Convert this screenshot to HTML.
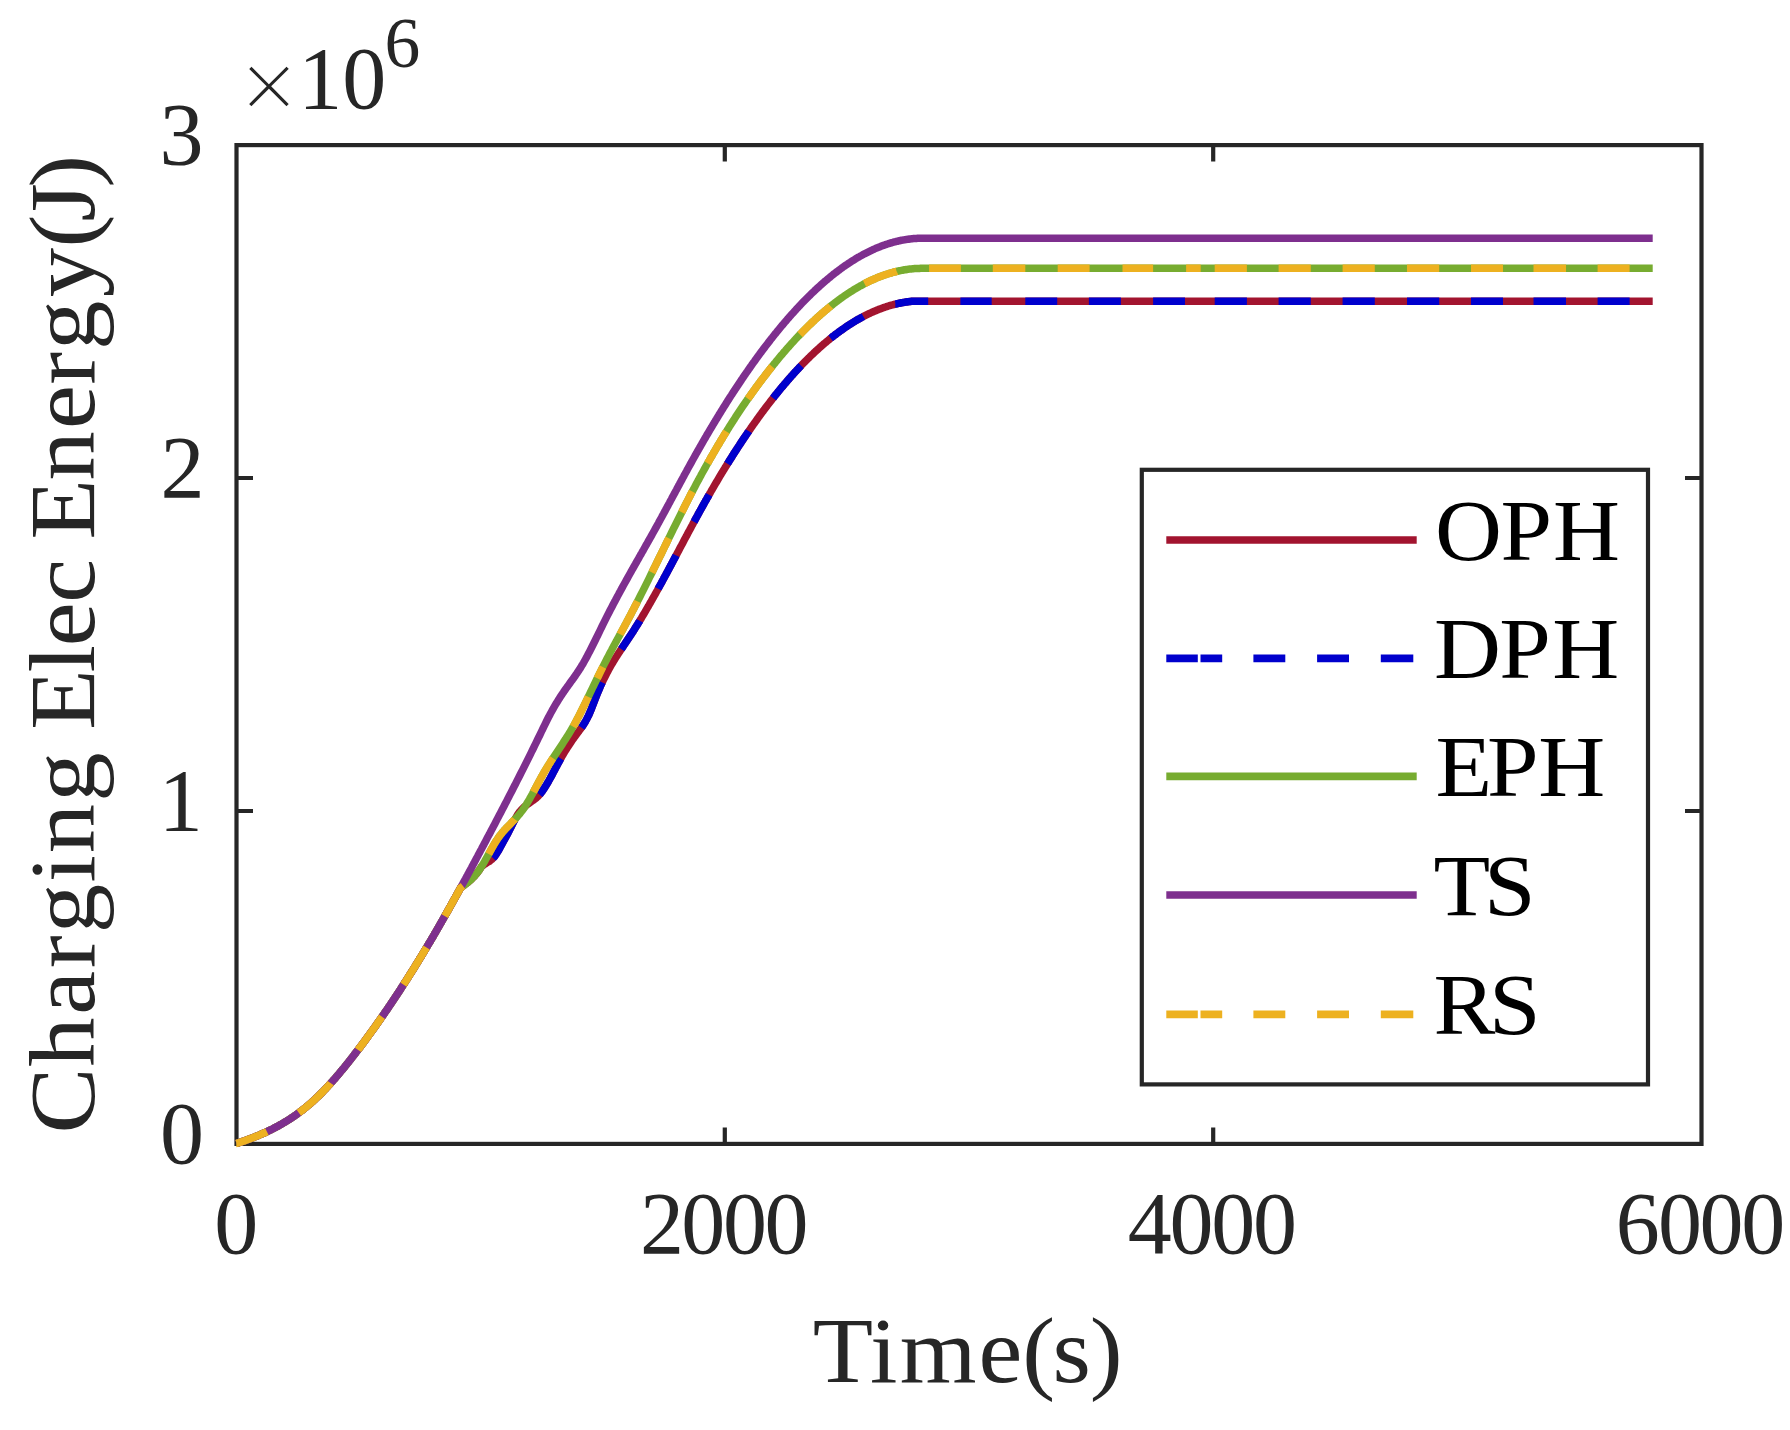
<!DOCTYPE html>
<html lang="en"><head><meta charset="utf-8"><title>Charging Elec Energy</title>
<style>html,body{margin:0;padding:0;background:#fff}body{width:1790px;height:1430px;overflow:hidden}svg{display:block}</style></head>
<body>
<svg width="1790" height="1430" viewBox="0 0 1790 1430">
<rect width="1790" height="1430" fill="#fff"/>
<g fill="none" stroke="#262626" stroke-width="4.2">
<rect x="236.5" y="145.1" width="1465.0" height="998.8"/>
<path d="M724.8 1143.9 v-16.5 M724.8 145.1 v16.5 M1213.2 1143.9 v-16.5 M1213.2 145.1 v16.5 M236.5 811.0 h16.5 M1701.5 811.0 h-16.5 M236.5 478.0 h16.5 M1701.5 478.0 h-16.5"/>
</g>
<g fill="none" stroke-width="7.5" stroke-linejoin="round">
<path d="M236.5 1143.5 L237.5 1143.2 L238.5 1142.8 L239.5 1142.5 L240.5 1142.2 L241.5 1141.8 L242.5 1141.5 L243.5 1141.1 L244.5 1140.8 L245.5 1140.4 L246.5 1140.0 L247.5 1139.7 L248.5 1139.3 L249.5 1138.9 L250.5 1138.6 L251.5 1138.2 L252.5 1137.8 L253.5 1137.4 L254.5 1137.0 L255.5 1136.6 L256.5 1136.2 L257.5 1135.8 L258.5 1135.4 L259.5 1135.0 L260.5 1134.5 L261.5 1134.1 L262.5 1133.7 L263.5 1133.2 L264.5 1132.8 L265.5 1132.3 L266.5 1131.9 L267.5 1131.4 L268.5 1130.9 L269.5 1130.4 L270.5 1129.9 L271.5 1129.5 L272.5 1129.0 L273.5 1128.4 L274.5 1127.9 L275.5 1127.4 L276.5 1126.9 L277.5 1126.3 L278.5 1125.8 L279.5 1125.2 L280.5 1124.7 L281.5 1124.1 L282.5 1123.5 L283.5 1122.9 L284.5 1122.3 L285.5 1121.7 L286.5 1121.1 L287.5 1120.5 L288.5 1119.9 L289.5 1119.2 L290.5 1118.6 L291.5 1117.9 L292.5 1117.2 L293.5 1116.6 L294.5 1115.9 L295.5 1115.2 L296.5 1114.5 L297.5 1113.7 L298.5 1113.0 L299.5 1112.3 L300.5 1111.5 L301.5 1110.8 L302.5 1110.0 L303.5 1109.2 L304.5 1108.4 L305.5 1107.6 L306.5 1106.8 L307.5 1105.9 L308.5 1105.1 L309.5 1104.2 L310.5 1103.4 L311.5 1102.5 L312.5 1101.6 L313.5 1100.7 L314.5 1099.8 L315.5 1098.8 L316.5 1097.9 L317.5 1096.9 L318.5 1096.0 L319.5 1095.0 L320.5 1094.0 L321.5 1093.0 L322.5 1092.0 L323.5 1090.9 L324.5 1089.9 L325.5 1088.9 L326.5 1087.8 L327.5 1086.7 L328.5 1085.6 L329.5 1084.6 L330.5 1083.5 L331.5 1082.3 L332.5 1081.2 L333.5 1080.1 L334.5 1079.0 L335.5 1077.8 L336.5 1076.6 L337.5 1075.5 L338.5 1074.3 L339.5 1073.1 L340.5 1071.9 L341.5 1070.7 L342.5 1069.5 L343.5 1068.3 L344.5 1067.1 L345.5 1065.8 L346.5 1064.6 L347.5 1063.3 L348.5 1062.1 L349.5 1060.8 L350.5 1059.6 L351.5 1058.3 L352.5 1057.0 L353.5 1055.7 L354.5 1054.4 L355.5 1053.1 L356.5 1051.8 L357.5 1050.5 L358.5 1049.2 L359.5 1047.9 L360.5 1046.6 L361.5 1045.2 L362.5 1043.9 L363.5 1042.6 L364.5 1041.2 L365.5 1039.9 L366.5 1038.5 L367.5 1037.1 L368.5 1035.8 L369.5 1034.4 L370.5 1033.0 L371.5 1031.6 L372.5 1030.2 L373.5 1028.9 L374.5 1027.5 L375.5 1026.1 L376.5 1024.6 L377.5 1023.2 L378.5 1021.8 L379.5 1020.4 L380.5 1019.0 L381.5 1017.5 L382.5 1016.1 L383.5 1014.6 L384.5 1013.2 L385.5 1011.7 L386.5 1010.3 L387.5 1008.8 L388.5 1007.3 L389.5 1005.9 L390.5 1004.4 L391.5 1002.9 L392.5 1001.4 L393.5 999.9 L394.5 998.4 L395.5 996.9 L396.5 995.4 L397.5 993.9 L398.5 992.3 L399.5 990.8 L400.5 989.3 L401.5 987.7 L402.5 986.2 L403.5 984.6 L404.5 983.1 L405.5 981.5 L406.5 980.0 L407.5 978.4 L408.5 976.8 L409.5 975.2 L410.5 973.6 L411.5 972.1 L412.5 970.5 L413.5 968.9 L414.5 967.3 L415.5 965.6 L416.5 964.0 L417.5 962.4 L418.5 960.8 L419.5 959.1 L420.5 957.5 L421.5 955.9 L422.5 954.2 L423.5 952.6 L424.5 950.9 L425.5 949.2 L426.5 947.6 L427.5 945.9 L428.5 944.2 L429.5 942.5 L430.5 940.9 L431.5 939.2 L432.5 937.5 L433.5 935.8 L434.5 934.0 L435.5 932.3 L436.5 930.6 L437.5 928.9 L438.5 927.2 L439.5 925.4 L440.5 923.7 L441.5 921.9 L442.5 920.2 L443.5 918.4 L444.5 916.7 L445.5 914.9 L446.5 913.1 L447.5 911.4 L448.5 909.6 L449.5 907.8 L450.5 906.0 L451.5 904.2 L452.5 902.4 L453.5 900.6 L454.5 898.8 L455.5 897.0 L456.5 895.2 L457.5 893.4 L458.5 891.6 L459.5 889.8 L460.5 887.9 L461.5 887.2 L462.5 886.4 L463.5 885.7 L464.5 884.9 L465.5 884.1 L466.5 883.4 L467.5 882.6 L468.5 881.7 L469.5 880.9 L470.5 880.0 L471.5 879.0 L472.5 878.1 L473.5 877.0 L474.5 876.0 L475.5 874.8 L476.5 873.7 L477.5 872.4 L478.5 871.1 L479.5 869.7 L480.5 868.2 L481.5 866.6 L482.5 865.8 L483.5 865.0 L484.5 864.3 L485.5 863.7 L486.5 863.0 L487.5 862.4 L488.5 861.8 L489.5 861.2 L490.5 860.4 L491.5 859.6 L492.5 858.7 L493.5 857.7 L494.5 856.5 L495.5 855.1 L496.5 853.6 L497.5 852.0 L498.5 850.4 L499.5 848.6 L500.5 846.8 L501.5 845.0 L502.5 843.1 L503.5 841.3 L504.5 839.5 L505.5 837.6 L506.5 835.8 L507.5 833.9 L508.5 832.0 L509.5 830.1 L510.5 828.1 L511.5 826.1 L512.5 824.1 L513.5 822.1 L514.5 820.2 L515.5 818.3 L516.5 816.6 L517.5 814.9 L518.5 813.4 L519.5 812.0 L520.5 810.8 L521.5 809.6 L522.5 808.6 L523.5 807.6 L524.5 806.7 L525.5 805.9 L526.5 805.1 L527.5 804.3 L528.5 803.6 L529.5 802.9 L530.5 802.2 L531.5 801.5 L532.5 800.8 L533.5 800.1 L534.5 799.3 L535.5 798.5 L536.5 797.7 L537.5 796.8 L538.5 795.8 L539.5 794.7 L540.5 793.5 L541.5 792.2 L542.5 790.9 L543.5 789.4 L544.5 787.9 L545.5 786.3 L546.5 784.7 L547.5 783.0 L548.5 781.3 L549.5 779.5 L550.5 777.7 L551.5 775.9 L552.5 774.0 L553.5 772.1 L554.5 770.2 L555.5 768.3 L556.5 766.5 L557.5 764.6 L558.5 762.7 L559.5 760.9 L560.5 759.0 L561.5 757.3 L562.5 755.5 L563.5 753.8 L564.5 752.1 L565.5 750.5 L566.5 748.9 L567.5 747.3 L568.5 745.8 L569.5 744.3 L570.5 742.8 L571.5 741.3 L572.5 739.9 L573.5 738.5 L574.5 737.1 L575.5 735.7 L576.5 734.4 L577.5 733.0 L578.5 731.7 L579.5 730.3 L580.5 729.0 L581.5 727.6 L582.5 726.1 L583.5 724.6 L584.5 723.0 L585.5 721.3 L586.5 719.5 L587.5 717.6 L588.5 715.6 L589.5 713.4 L590.5 711.1 L591.5 708.6 L592.5 706.0 L593.5 703.4 L594.5 700.7 L595.5 698.1 L596.5 695.6 L597.5 693.1 L598.5 690.7 L599.5 688.4 L600.5 686.1 L601.5 683.9 L602.5 681.8 L603.5 679.7 L604.5 677.7 L605.5 675.7 L606.5 673.7 L607.5 671.9 L608.5 670.0 L609.5 668.2 L610.5 666.4 L611.5 664.7 L612.5 663.0 L613.5 661.3 L614.5 659.7 L615.5 658.1 L616.5 656.5 L617.5 654.9 L618.5 653.4 L619.5 651.9 L620.5 650.3 L621.5 648.8 L622.5 647.3 L623.5 645.8 L624.5 644.4 L625.5 642.9 L626.5 641.4 L627.5 639.9 L628.5 638.4 L629.5 636.9 L630.5 635.4 L631.5 633.9 L632.5 632.3 L633.5 630.8 L634.5 629.2 L635.5 627.6 L636.5 626.0 L637.5 624.4 L638.5 622.8 L639.5 621.2 L640.5 619.5 L641.5 617.9 L642.5 616.2 L643.5 614.5 L644.5 612.8 L645.5 611.1 L646.5 609.4 L647.5 607.7 L648.5 606.0 L649.5 604.2 L650.5 602.5 L651.5 600.7 L652.5 598.9 L653.5 597.1 L654.5 595.4 L655.5 593.6 L656.5 591.8 L657.5 590.0 L658.5 588.1 L659.5 586.3 L660.5 584.5 L661.5 582.7 L662.5 580.8 L663.5 579.0 L664.5 577.1 L665.5 575.3 L666.5 573.4 L667.5 571.6 L668.5 569.7 L669.5 567.8 L670.5 565.9 L671.5 564.1 L672.5 562.2 L673.5 560.3 L674.5 558.4 L675.5 556.6 L676.5 554.7 L677.5 552.8 L678.5 550.9 L679.5 549.0 L680.5 547.1 L681.5 545.3 L682.5 543.4 L683.5 541.5 L684.5 539.6 L685.5 537.7 L686.5 535.9 L687.5 534.0 L688.5 532.1 L689.5 530.3 L690.5 528.4 L691.5 526.5 L692.5 524.7 L693.5 522.8 L694.5 521.0 L695.5 519.1 L696.5 517.3 L697.5 515.5 L698.5 513.6 L699.5 511.8 L700.5 510.0 L701.5 508.2 L702.5 506.4 L703.5 504.6 L704.5 502.8 L705.5 501.0 L706.5 499.3 L707.5 497.5 L708.5 495.8 L709.5 494.0 L710.5 492.3 L711.5 490.5 L712.5 488.8 L713.5 487.1 L714.5 485.4 L715.5 483.7 L716.5 482.0 L717.5 480.3 L718.5 478.6 L719.5 476.9 L720.5 475.2 L721.5 473.6 L722.5 471.9 L723.5 470.3 L724.5 468.7 L725.5 467.0 L726.5 465.4 L727.5 463.8 L728.5 462.2 L729.5 460.6 L730.5 459.0 L731.5 457.4 L732.5 455.8 L733.5 454.2 L734.5 452.7 L735.5 451.1 L736.5 449.6 L737.5 448.0 L738.5 446.5 L739.5 445.0 L740.5 443.4 L741.5 441.9 L742.5 440.4 L743.5 438.9 L744.5 437.4 L745.5 436.0 L746.5 434.5 L747.5 433.0 L748.5 431.6 L749.5 430.1 L750.5 428.7 L751.5 427.2 L752.5 425.8 L753.5 424.4 L754.5 423.0 L755.5 421.6 L756.5 420.2 L757.5 418.8 L758.5 417.4 L759.5 416.0 L760.5 414.6 L761.5 413.3 L762.5 411.9 L763.5 410.6 L764.5 409.2 L765.5 407.9 L766.5 406.6 L767.5 405.3 L768.5 404.0 L769.5 402.7 L770.5 401.4 L771.5 400.1 L772.5 398.8 L773.5 397.6 L774.5 396.3 L775.5 395.0 L776.5 393.8 L777.5 392.6 L778.5 391.3 L779.5 390.1 L780.5 388.9 L781.5 387.7 L782.5 386.5 L783.5 385.3 L784.5 384.1 L785.5 383.0 L786.5 381.8 L787.5 380.6 L788.5 379.5 L789.5 378.3 L790.5 377.2 L791.5 376.1 L792.5 375.0 L793.5 373.8 L794.5 372.7 L795.5 371.6 L796.5 370.6 L797.5 369.5 L798.5 368.4 L799.5 367.3 L800.5 366.3 L801.5 365.2 L802.5 364.2 L803.5 363.2 L804.5 362.2 L805.5 361.1 L806.5 360.1 L807.5 359.1 L808.5 358.1 L809.5 357.2 L810.5 356.2 L811.5 355.2 L812.5 354.3 L813.5 353.3 L814.5 352.4 L815.5 351.4 L816.5 350.5 L817.5 349.6 L818.5 348.7 L819.5 347.8 L820.5 346.9 L821.5 346.0 L822.5 345.1 L823.5 344.3 L824.5 343.4 L825.5 342.6 L826.5 341.7 L827.5 340.9 L828.5 340.1 L829.5 339.2 L830.5 338.4 L831.5 337.6 L832.5 336.8 L833.5 336.0 L834.5 335.3 L835.5 334.5 L836.5 333.7 L837.5 333.0 L838.5 332.3 L839.5 331.5 L840.5 330.8 L841.5 330.1 L842.5 329.4 L843.5 328.7 L844.5 328.0 L845.5 327.3 L846.5 326.6 L847.5 325.9 L848.5 325.3 L849.5 324.6 L850.5 324.0 L851.5 323.4 L852.5 322.7 L853.5 322.1 L854.5 321.5 L855.5 320.9 L856.5 320.3 L857.5 319.7 L858.5 319.2 L859.5 318.6 L860.5 318.1 L861.5 317.5 L862.5 317.0 L863.5 316.4 L864.5 315.9 L865.5 315.4 L866.5 314.9 L867.5 314.4 L868.5 313.9 L869.5 313.4 L870.5 313.0 L871.5 312.5 L872.5 312.1 L873.5 311.6 L874.5 311.2 L875.5 310.8 L876.5 310.3 L877.5 309.9 L878.5 309.5 L879.5 309.1 L880.5 308.8 L881.5 308.4 L882.5 308.0 L883.5 307.7 L884.5 307.3 L885.5 307.0 L886.5 306.7 L887.5 306.3 L888.5 306.0 L889.5 305.7 L890.5 305.4 L891.5 305.1 L892.5 304.9 L893.5 304.6 L894.5 304.3 L895.5 304.1 L896.5 303.9 L897.5 303.6 L898.5 303.4 L899.5 303.2 L900.5 303.0 L901.5 302.8 L902.5 302.6 L903.5 302.4 L904.5 302.3 L905.5 302.1 L906.5 302.0 L907.5 301.8 L908.5 301.7 L909.5 301.6 L910.5 301.4 L911.5 301.3 L912.5 301.3 L913.5 301.3 L914.5 301.3 L915.5 301.3 L916.5 301.3 L917.5 301.3 L918.5 301.3 L919.5 301.3 L920.5 301.3 L921.5 301.3 L922.5 301.3 L923.5 301.3 L924.5 301.3 L1652.7 301.3" stroke="#A2142F"/>
<path d="M493.1 858.1 L493.5 857.7 L494.5 856.5 L495.5 855.1 L496.5 853.6 L497.5 852.0 L498.5 850.4 L499.5 848.6 L500.5 846.8 L501.5 845.0 L502.5 843.1 L503.5 841.3 L504.5 839.5 L505.5 837.6 L506.5 835.8 L507.5 833.9 L508.5 832.0 L509.5 830.1 L510.5 828.1 L511.5 826.1 L512.5 824.1 L513.5 822.1 L514.5 820.2 L514.9 819.4 M539.5 794.7 L540.5 793.5 L541.5 792.2 L542.5 790.9 L543.5 789.4 L544.5 787.9 L545.5 786.3 L546.5 784.7 L547.5 783.0 L548.5 781.3 L549.5 779.5 L550.5 777.7 L551.5 775.9 L552.5 774.0 L553.5 772.1 L554.5 770.2 L555.5 768.3 L556.5 766.5 L557.5 764.6 L558.5 762.7 L559.5 760.9 L560.5 759.0 L560.8 758.5 M581.5 727.6 L582.5 726.1 L583.5 724.6 L584.5 723.0 L585.5 721.3 L586.5 719.5 L587.5 717.6 L588.5 715.6 L589.5 713.4 L590.5 711.1 L591.5 708.6 L592.5 706.0 L593.5 703.4 L594.5 700.7 L595.5 698.1 L596.5 695.6 L597.5 693.1 L598.5 690.7 L599.5 688.4 L600.5 686.1 L601.5 683.9 L602.2 682.4 M621.3 649.1 L621.5 648.8 L622.5 647.3 L623.5 645.8 L624.5 644.4 L625.5 642.9 L626.5 641.4 L627.5 639.9 L628.5 638.4 L629.5 636.9 L630.5 635.4 L631.5 633.9 L632.5 632.3 L633.5 630.8 L634.5 629.2 L635.5 627.6 L636.5 626.0 L637.5 624.4 L638.5 622.8 L639.5 621.2 L639.7 620.8 M658.2 588.7 L658.5 588.1 L659.5 586.3 L660.5 584.5 L661.5 582.7 L662.5 580.8 L663.5 579.0 L664.5 577.1 L665.5 575.3 L666.5 573.4 L667.5 571.6 L668.5 569.7 L669.5 567.8 L670.5 565.9 L671.5 564.1 L672.5 562.2 L673.5 560.3 L674.5 558.4 L675.5 556.6 L676.1 555.4 M694.0 521.9 L694.5 521.0 L695.5 519.1 L696.5 517.3 L697.5 515.5 L698.5 513.6 L699.5 511.8 L700.5 510.0 L701.5 508.2 L702.5 506.4 L703.5 504.6 L704.5 502.8 L705.5 501.0 L706.5 499.3 L707.5 497.5 L708.5 495.8 L709.1 494.7 M727.5 463.8 L728.5 462.2 L729.5 460.6 L730.5 459.0 L731.5 457.4 L732.5 455.8 L733.5 454.2 L734.5 452.7 L735.5 451.1 L736.5 449.6 L737.5 448.0 L738.5 446.5 L739.5 445.0 L740.5 443.4 L741.5 441.9 L742.5 440.4 L743.5 438.9 L744.5 437.4 L745.5 436.0 L746.5 434.5 L747.5 433.0 L748.5 431.6 L748.8 431.1 M773.1 398.1 L773.5 397.6 L774.5 396.3 L775.5 395.0 L776.5 393.8 L777.5 392.6 L778.5 391.3 L779.5 390.1 L780.5 388.9 L781.5 387.7 L782.5 386.5 L783.5 385.3 L784.5 384.1 L785.5 383.0 L786.5 381.8 L787.5 380.6 L788.5 379.5 L789.5 378.3 L790.5 377.2 L791.5 376.1 L792.5 375.0 L793.5 373.8 L794.5 372.7 L795.5 371.6 L796.5 370.6 L797.5 369.5 L798.5 368.4 L799.5 367.3 L800.5 366.3 L801.1 365.7 M830.6 338.3 L831.5 337.6 L832.5 336.8 L833.5 336.0 L834.5 335.3 L835.5 334.5 L836.5 333.7 L837.5 333.0 L838.5 332.3 L839.5 331.5 L840.5 330.8 L841.5 330.1 L842.5 329.4 L843.5 328.7 L844.5 328.0 L845.5 327.3 L846.5 326.6 L847.5 325.9 L848.5 325.3 L849.5 324.6 L850.5 324.0 L851.5 323.4 L852.5 322.7 L853.5 322.1 L854.5 321.5 L855.5 320.9 L856.5 320.3 L857.5 319.7 L858.5 319.2 L859.5 318.6 L860.5 318.1 L861.5 317.5 L862.5 317.0 L863.4 316.5 M895.3 304.1 L895.5 304.1 L896.5 303.9 L897.5 303.6 L898.5 303.4 L899.5 303.2 L900.5 303.0 L901.5 302.8 L902.5 302.6 L903.5 302.4 L904.5 302.3 L905.5 302.1 L906.5 302.0 L907.5 301.8 L908.5 301.7 L909.5 301.6 L910.5 301.4 L911.5 301.3 L912.5 301.3 L913.5 301.3 L914.5 301.3 L915.5 301.3 L916.5 301.3 L917.5 301.3 L918.5 301.3 L919.5 301.3 L920.5 301.3 L921.5 301.3 L922.5 301.3 L923.5 301.3 L924.5 301.3 L928.2 301.3 M960.4 301.3 L991.7 301.3 M1025.3 301.3 L1057.2 301.3 M1088.9 301.3 L1120.9 301.3 M1153.1 301.3 L1185.0 301.3 M1214.7 301.3 L1246.9 301.3 M1278.6 301.3 L1310.8 301.3 M1342.6 301.3 L1374.8 301.3 M1407.0 301.3 L1439.2 301.3 M1471.0 301.3 L1503.0 301.3 M1533.5 301.3 L1566.0 301.3 M1597.6 301.3 L1629.6 301.3" stroke="#0000CD"/>
<path d="M236.5 1143.5 L237.5 1143.2 L238.5 1142.8 L239.5 1142.5 L240.5 1142.2 L241.5 1141.8 L242.5 1141.5 L243.5 1141.1 L244.5 1140.8 L245.5 1140.4 L246.5 1140.0 L247.5 1139.7 L248.5 1139.3 L249.5 1138.9 L250.5 1138.6 L251.5 1138.2 L252.5 1137.8 L253.5 1137.4 L254.5 1137.0 L255.5 1136.6 L256.5 1136.2 L257.5 1135.8 L258.5 1135.4 L259.5 1135.0 L260.5 1134.5 L261.5 1134.1 L262.5 1133.7 L263.5 1133.2 L264.5 1132.8 L265.5 1132.3 L266.5 1131.9 L267.5 1131.4 L268.5 1130.9 L269.5 1130.4 L270.5 1129.9 L271.5 1129.5 L272.5 1129.0 L273.5 1128.4 L274.5 1127.9 L275.5 1127.4 L276.5 1126.9 L277.5 1126.3 L278.5 1125.8 L279.5 1125.2 L280.5 1124.7 L281.5 1124.1 L282.5 1123.5 L283.5 1122.9 L284.5 1122.3 L285.5 1121.7 L286.5 1121.1 L287.5 1120.5 L288.5 1119.9 L289.5 1119.2 L290.5 1118.6 L291.5 1117.9 L292.5 1117.2 L293.5 1116.6 L294.5 1115.9 L295.5 1115.2 L296.5 1114.5 L297.5 1113.7 L298.5 1113.0 L299.5 1112.3 L300.5 1111.5 L301.5 1110.8 L302.5 1110.0 L303.5 1109.2 L304.5 1108.4 L305.5 1107.6 L306.5 1106.8 L307.5 1105.9 L308.5 1105.1 L309.5 1104.2 L310.5 1103.4 L311.5 1102.5 L312.5 1101.6 L313.5 1100.7 L314.5 1099.8 L315.5 1098.8 L316.5 1097.9 L317.5 1096.9 L318.5 1096.0 L319.5 1095.0 L320.5 1094.0 L321.5 1093.0 L322.5 1092.0 L323.5 1090.9 L324.5 1089.9 L325.5 1088.9 L326.5 1087.8 L327.5 1086.7 L328.5 1085.6 L329.5 1084.6 L330.5 1083.5 L331.5 1082.3 L332.5 1081.2 L333.5 1080.1 L334.5 1079.0 L335.5 1077.8 L336.5 1076.6 L337.5 1075.5 L338.5 1074.3 L339.5 1073.1 L340.5 1071.9 L341.5 1070.7 L342.5 1069.5 L343.5 1068.3 L344.5 1067.1 L345.5 1065.8 L346.5 1064.6 L347.5 1063.3 L348.5 1062.1 L349.5 1060.8 L350.5 1059.6 L351.5 1058.3 L352.5 1057.0 L353.5 1055.7 L354.5 1054.4 L355.5 1053.1 L356.5 1051.8 L357.5 1050.5 L358.5 1049.2 L359.5 1047.9 L360.5 1046.6 L361.5 1045.2 L362.5 1043.9 L363.5 1042.6 L364.5 1041.2 L365.5 1039.9 L366.5 1038.5 L367.5 1037.1 L368.5 1035.8 L369.5 1034.4 L370.5 1033.0 L371.5 1031.6 L372.5 1030.2 L373.5 1028.9 L374.5 1027.5 L375.5 1026.1 L376.5 1024.6 L377.5 1023.2 L378.5 1021.8 L379.5 1020.4 L380.5 1019.0 L381.5 1017.5 L382.5 1016.1 L383.5 1014.6 L384.5 1013.2 L385.5 1011.7 L386.5 1010.3 L387.5 1008.8 L388.5 1007.3 L389.5 1005.9 L390.5 1004.4 L391.5 1002.9 L392.5 1001.4 L393.5 999.9 L394.5 998.4 L395.5 996.9 L396.5 995.4 L397.5 993.9 L398.5 992.3 L399.5 990.8 L400.5 989.3 L401.5 987.7 L402.5 986.2 L403.5 984.6 L404.5 983.1 L405.5 981.5 L406.5 980.0 L407.5 978.4 L408.5 976.8 L409.5 975.2 L410.5 973.6 L411.5 972.1 L412.5 970.5 L413.5 968.9 L414.5 967.3 L415.5 965.6 L416.5 964.0 L417.5 962.4 L418.5 960.8 L419.5 959.1 L420.5 957.5 L421.5 955.9 L422.5 954.2 L423.5 952.6 L424.5 950.9 L425.5 949.2 L426.5 947.6 L427.5 945.9 L428.5 944.2 L429.5 942.5 L430.5 940.9 L431.5 939.2 L432.5 937.5 L433.5 935.8 L434.5 934.0 L435.5 932.3 L436.5 930.6 L437.5 928.9 L438.5 927.2 L439.5 925.4 L440.5 923.7 L441.5 921.9 L442.5 920.2 L443.5 918.4 L444.5 916.7 L445.5 914.9 L446.5 913.1 L447.5 911.4 L448.5 909.6 L449.5 907.8 L450.5 906.0 L451.5 904.2 L452.5 902.4 L453.5 900.6 L454.5 898.8 L455.5 897.0 L456.5 895.2 L457.5 893.4 L458.5 891.6 L459.5 889.8 L460.5 887.9 L461.5 887.2 L462.5 886.4 L463.5 885.7 L464.5 884.9 L465.5 884.1 L466.5 883.4 L467.5 882.6 L468.5 881.7 L469.5 880.9 L470.5 880.0 L471.5 879.0 L472.5 878.1 L473.5 877.0 L474.5 876.0 L475.5 874.8 L476.5 873.7 L477.5 872.4 L478.5 871.1 L479.5 869.7 L480.5 868.2 L481.5 866.6 L482.5 865.0 L483.5 863.3 L484.5 861.6 L485.5 859.8 L486.5 858.0 L487.5 856.2 L488.5 854.4 L489.5 852.6 L490.5 850.7 L491.5 848.9 L492.5 847.2 L493.5 845.4 L494.5 843.7 L495.5 842.1 L496.5 840.5 L497.5 839.0 L498.5 837.5 L499.5 836.1 L500.5 834.8 L501.5 833.6 L502.5 832.3 L503.5 831.2 L504.5 830.0 L505.5 828.9 L506.5 827.9 L507.5 826.8 L508.5 825.8 L509.5 824.8 L510.5 823.8 L511.5 822.7 L512.5 821.7 L513.5 820.7 L514.5 819.7 L515.5 818.6 L516.5 817.5 L517.5 816.4 L518.5 815.2 L519.5 814.1 L520.5 812.8 L521.5 811.5 L522.5 810.2 L523.5 808.8 L524.5 807.3 L525.5 805.8 L526.5 804.2 L527.5 802.5 L528.5 800.8 L529.5 799.1 L530.5 797.3 L531.5 795.5 L532.5 793.7 L533.5 791.8 L534.5 789.9 L535.5 788.1 L536.5 786.2 L537.5 784.3 L538.5 782.4 L539.5 780.6 L540.5 778.7 L541.5 776.9 L542.5 775.1 L543.5 773.4 L544.5 771.6 L545.5 769.9 L546.5 768.3 L547.5 766.7 L548.5 765.0 L549.5 763.5 L550.5 761.9 L551.5 760.3 L552.5 758.8 L553.5 757.3 L554.5 755.8 L555.5 754.3 L556.5 752.8 L557.5 751.3 L558.5 749.8 L559.5 748.3 L560.5 746.8 L561.5 745.3 L562.5 743.8 L563.5 742.2 L564.5 740.7 L565.5 739.2 L566.5 737.6 L567.5 736.0 L568.5 734.4 L569.5 732.8 L570.5 731.1 L571.5 729.4 L572.5 727.7 L573.5 726.0 L574.5 724.2 L575.5 722.4 L576.5 720.5 L577.5 718.6 L578.5 716.7 L579.5 714.8 L580.5 712.8 L581.5 710.8 L582.5 708.8 L583.5 706.7 L584.5 704.7 L585.5 702.6 L586.5 700.5 L587.5 698.5 L588.5 696.4 L589.5 694.3 L590.5 692.2 L591.5 690.1 L592.5 688.0 L593.5 686.0 L594.5 683.9 L595.5 681.8 L596.5 679.8 L597.5 677.7 L598.5 675.7 L599.5 673.6 L600.5 671.6 L601.5 669.6 L602.5 667.6 L603.5 665.6 L604.5 663.6 L605.5 661.7 L606.5 659.7 L607.5 657.8 L608.5 655.9 L609.5 653.9 L610.5 652.0 L611.5 650.2 L612.5 648.3 L613.5 646.4 L614.5 644.6 L615.5 642.7 L616.5 640.9 L617.5 639.0 L618.5 637.2 L619.5 635.4 L620.5 633.5 L621.5 631.7 L622.5 629.9 L623.5 628.0 L624.5 626.2 L625.5 624.3 L626.5 622.5 L627.5 620.6 L628.5 618.7 L629.5 616.8 L630.5 614.9 L631.5 613.0 L632.5 611.1 L633.5 609.2 L634.5 607.3 L635.5 605.3 L636.5 603.4 L637.5 601.4 L638.5 599.5 L639.5 597.5 L640.5 595.5 L641.5 593.6 L642.5 591.6 L643.5 589.6 L644.5 587.6 L645.5 585.6 L646.5 583.6 L647.5 581.6 L648.5 579.6 L649.5 577.5 L650.5 575.5 L651.5 573.5 L652.5 571.5 L653.5 569.4 L654.5 567.4 L655.5 565.4 L656.5 563.3 L657.5 561.3 L658.5 559.3 L659.5 557.2 L660.5 555.2 L661.5 553.2 L662.5 551.1 L663.5 549.1 L664.5 547.0 L665.5 545.0 L666.5 543.0 L667.5 540.9 L668.5 538.9 L669.5 536.9 L670.5 534.8 L671.5 532.8 L672.5 530.8 L673.5 528.7 L674.5 526.7 L675.5 524.7 L676.5 522.7 L677.5 520.7 L678.5 518.7 L679.5 516.7 L680.5 514.7 L681.5 512.7 L682.5 510.7 L683.5 508.7 L684.5 506.7 L685.5 504.8 L686.5 502.8 L687.5 500.9 L688.5 498.9 L689.5 497.0 L690.5 495.0 L691.5 493.1 L692.5 491.2 L693.5 489.3 L694.5 487.4 L695.5 485.5 L696.5 483.6 L697.5 481.7 L698.5 479.9 L699.5 478.0 L700.5 476.2 L701.5 474.3 L702.5 472.5 L703.5 470.7 L704.5 468.9 L705.5 467.1 L706.5 465.3 L707.5 463.5 L708.5 461.8 L709.5 460.0 L710.5 458.2 L711.5 456.5 L712.5 454.8 L713.5 453.0 L714.5 451.3 L715.5 449.6 L716.5 447.9 L717.5 446.2 L718.5 444.5 L719.5 442.9 L720.5 441.2 L721.5 439.5 L722.5 437.9 L723.5 436.2 L724.5 434.6 L725.5 433.0 L726.5 431.4 L727.5 429.8 L728.5 428.2 L729.5 426.6 L730.5 425.0 L731.5 423.4 L732.5 421.9 L733.5 420.3 L734.5 418.8 L735.5 417.2 L736.5 415.7 L737.5 414.2 L738.5 412.7 L739.5 411.2 L740.5 409.7 L741.5 408.2 L742.5 406.7 L743.5 405.2 L744.5 403.8 L745.5 402.3 L746.5 400.9 L747.5 399.4 L748.5 398.0 L749.5 396.6 L750.5 395.2 L751.5 393.8 L752.5 392.4 L753.5 391.0 L754.5 389.6 L755.5 388.2 L756.5 386.8 L757.5 385.5 L758.5 384.1 L759.5 382.8 L760.5 381.4 L761.5 380.1 L762.5 378.8 L763.5 377.5 L764.5 376.2 L765.5 374.9 L766.5 373.6 L767.5 372.3 L768.5 371.0 L769.5 369.7 L770.5 368.5 L771.5 367.2 L772.5 366.0 L773.5 364.7 L774.5 363.5 L775.5 362.3 L776.5 361.0 L777.5 359.8 L778.5 358.6 L779.5 357.4 L780.5 356.2 L781.5 355.0 L782.5 353.9 L783.5 352.7 L784.5 351.5 L785.5 350.4 L786.5 349.2 L787.5 348.1 L788.5 347.0 L789.5 345.8 L790.5 344.7 L791.5 343.6 L792.5 342.5 L793.5 341.4 L794.5 340.3 L795.5 339.2 L796.5 338.2 L797.5 337.1 L798.5 336.0 L799.5 335.0 L800.5 334.0 L801.5 332.9 L802.5 331.9 L803.5 330.9 L804.5 329.9 L805.5 328.9 L806.5 327.9 L807.5 326.9 L808.5 325.9 L809.5 324.9 L810.5 324.0 L811.5 323.0 L812.5 322.0 L813.5 321.1 L814.5 320.2 L815.5 319.2 L816.5 318.3 L817.5 317.4 L818.5 316.5 L819.5 315.6 L820.5 314.7 L821.5 313.8 L822.5 313.0 L823.5 312.1 L824.5 311.3 L825.5 310.4 L826.5 309.6 L827.5 308.7 L828.5 307.9 L829.5 307.1 L830.5 306.3 L831.5 305.5 L832.5 304.7 L833.5 303.9 L834.5 303.1 L835.5 302.4 L836.5 301.6 L837.5 300.9 L838.5 300.1 L839.5 299.4 L840.5 298.6 L841.5 297.9 L842.5 297.2 L843.5 296.5 L844.5 295.8 L845.5 295.1 L846.5 294.5 L847.5 293.8 L848.5 293.1 L849.5 292.5 L850.5 291.8 L851.5 291.2 L852.5 290.6 L853.5 289.9 L854.5 289.3 L855.5 288.7 L856.5 288.1 L857.5 287.6 L858.5 287.0 L859.5 286.4 L860.5 285.8 L861.5 285.3 L862.5 284.8 L863.5 284.2 L864.5 283.7 L865.5 283.2 L866.5 282.7 L867.5 282.2 L868.5 281.7 L869.5 281.2 L870.5 280.7 L871.5 280.2 L872.5 279.8 L873.5 279.3 L874.5 278.9 L875.5 278.5 L876.5 278.0 L877.5 277.6 L878.5 277.2 L879.5 276.8 L880.5 276.4 L881.5 276.1 L882.5 275.7 L883.5 275.3 L884.5 275.0 L885.5 274.6 L886.5 274.3 L887.5 274.0 L888.5 273.7 L889.5 273.4 L890.5 273.1 L891.5 272.8 L892.5 272.5 L893.5 272.2 L894.5 272.0 L895.5 271.7 L896.5 271.5 L897.5 271.2 L898.5 271.0 L899.5 270.8 L900.5 270.6 L901.5 270.4 L902.5 270.2 L903.5 270.0 L904.5 269.8 L905.5 269.7 L906.5 269.5 L907.5 269.4 L908.5 269.2 L909.5 269.1 L910.5 269.0 L911.5 268.9 L912.5 268.8 L913.5 268.7 L914.5 268.6 L915.5 268.5 L916.5 268.5 L917.5 268.4 L918.5 268.4 L919.5 268.4 L920.5 268.3 L921.5 268.3 L922.5 268.3 L923.5 268.3 L924.5 268.3 L1652.7 268.3" stroke="#77AC30"/>
<path d="M236.5 1143.5 L237.5 1143.2 L238.5 1142.8 L239.5 1142.5 L240.5 1142.2 L241.5 1141.8 L242.5 1141.5 L243.5 1141.1 L244.5 1140.8 L245.5 1140.4 L246.5 1140.0 L247.5 1139.7 L248.5 1139.3 L249.5 1138.9 L250.5 1138.6 L251.5 1138.2 L252.5 1137.8 L253.5 1137.4 L254.5 1137.0 L255.5 1136.6 L256.5 1136.2 L257.5 1135.8 L258.5 1135.4 L259.5 1135.0 L260.5 1134.5 L261.5 1134.1 L262.5 1133.7 L263.5 1133.2 L264.5 1132.8 L265.5 1132.3 L266.5 1131.9 L267.5 1131.4 L268.5 1130.9 L269.5 1130.4 L270.5 1129.9 L271.5 1129.5 L272.5 1129.0 L273.5 1128.4 L274.5 1127.9 L275.5 1127.4 L276.5 1126.9 L277.5 1126.3 L278.5 1125.8 L279.5 1125.2 L280.5 1124.7 L281.5 1124.1 L282.5 1123.5 L283.5 1122.9 L284.5 1122.3 L285.5 1121.7 L286.5 1121.1 L287.5 1120.5 L288.5 1119.9 L289.5 1119.2 L290.5 1118.6 L291.5 1117.9 L292.5 1117.2 L293.5 1116.6 L294.5 1115.9 L295.5 1115.2 L296.5 1114.5 L297.5 1113.7 L298.5 1113.0 L299.5 1112.3 L300.5 1111.5 L301.5 1110.8 L302.5 1110.0 L303.5 1109.2 L304.5 1108.4 L305.5 1107.6 L306.5 1106.8 L307.5 1105.9 L308.5 1105.1 L309.5 1104.2 L310.5 1103.4 L311.5 1102.5 L312.5 1101.6 L313.5 1100.7 L314.5 1099.8 L315.5 1098.8 L316.5 1097.9 L317.5 1096.9 L318.5 1096.0 L319.5 1095.0 L320.5 1094.0 L321.5 1093.0 L322.5 1092.0 L323.5 1090.9 L324.5 1089.9 L325.5 1088.9 L326.5 1087.8 L327.5 1086.7 L328.5 1085.6 L329.5 1084.6 L330.5 1083.5 L331.5 1082.3 L332.5 1081.2 L333.5 1080.1 L334.5 1079.0 L335.5 1077.8 L336.5 1076.6 L337.5 1075.5 L338.5 1074.3 L339.5 1073.1 L340.5 1071.9 L341.5 1070.7 L342.5 1069.5 L343.5 1068.3 L344.5 1067.1 L345.5 1065.8 L346.5 1064.6 L347.5 1063.3 L348.5 1062.1 L349.5 1060.8 L350.5 1059.6 L351.5 1058.3 L352.5 1057.0 L353.5 1055.7 L354.5 1054.4 L355.5 1053.1 L356.5 1051.8 L357.5 1050.5 L358.5 1049.2 L359.5 1047.9 L360.5 1046.6 L361.5 1045.2 L362.5 1043.9 L363.5 1042.6 L364.5 1041.2 L365.5 1039.9 L366.5 1038.5 L367.5 1037.1 L368.5 1035.8 L369.5 1034.4 L370.5 1033.0 L371.5 1031.6 L372.5 1030.2 L373.5 1028.9 L374.5 1027.5 L375.5 1026.1 L376.5 1024.6 L377.5 1023.2 L378.5 1021.8 L379.5 1020.4 L380.5 1019.0 L381.5 1017.5 L382.5 1016.1 L383.5 1014.6 L384.5 1013.2 L385.5 1011.7 L386.5 1010.3 L387.5 1008.8 L388.5 1007.3 L389.5 1005.9 L390.5 1004.4 L391.5 1002.9 L392.5 1001.4 L393.5 999.9 L394.5 998.4 L395.5 996.9 L396.5 995.4 L397.5 993.9 L398.5 992.3 L399.5 990.8 L400.5 989.3 L401.5 987.7 L402.5 986.2 L403.5 984.6 L404.5 983.1 L405.5 981.5 L406.5 980.0 L407.5 978.4 L408.5 976.8 L409.5 975.2 L410.5 973.6 L411.5 972.1 L412.5 970.5 L413.5 968.9 L414.5 967.3 L415.5 965.6 L416.5 964.0 L417.5 962.4 L418.5 960.8 L419.5 959.1 L420.5 957.5 L421.5 955.9 L422.5 954.2 L423.5 952.6 L424.5 950.9 L425.5 949.2 L426.5 947.6 L427.5 945.9 L428.5 944.2 L429.5 942.5 L430.5 940.9 L431.5 939.2 L432.5 937.5 L433.5 935.8 L434.5 934.0 L435.5 932.3 L436.5 930.6 L437.5 928.9 L438.5 927.2 L439.5 925.4 L440.5 923.7 L441.5 921.9 L442.5 920.2 L443.5 918.4 L444.5 916.7 L445.5 914.9 L446.5 913.1 L447.5 911.4 L448.5 909.6 L449.5 907.8 L450.5 906.0 L451.5 904.2 L452.5 902.4 L453.5 900.6 L454.5 898.8 L455.5 897.0 L456.5 895.2 L457.5 893.4 L458.5 891.6 L459.5 889.8 L460.5 887.9 L461.5 886.1 L462.5 884.3 L463.5 882.4 L464.5 880.6 L465.5 878.8 L466.5 876.9 L467.5 875.1 L468.5 873.2 L469.5 871.4 L470.5 869.5 L471.5 867.7 L472.5 865.8 L473.5 863.9 L474.5 862.1 L475.5 860.2 L476.5 858.3 L477.5 856.5 L478.5 854.6 L479.5 852.7 L480.5 850.8 L481.5 849.0 L482.5 847.1 L483.5 845.2 L484.5 843.3 L485.5 841.4 L486.5 839.5 L487.5 837.6 L488.5 835.7 L489.5 833.9 L490.5 832.0 L491.5 830.1 L492.5 828.2 L493.5 826.3 L494.5 824.4 L495.5 822.5 L496.5 820.6 L497.5 818.6 L498.5 816.7 L499.5 814.8 L500.5 812.9 L501.5 811.0 L502.5 809.1 L503.5 807.2 L504.5 805.2 L505.5 803.3 L506.5 801.4 L507.5 799.4 L508.5 797.5 L509.5 795.6 L510.5 793.6 L511.5 791.7 L512.5 789.7 L513.5 787.8 L514.5 785.8 L515.5 783.9 L516.5 781.9 L517.5 779.9 L518.5 778.0 L519.5 776.0 L520.5 774.0 L521.5 772.1 L522.5 770.1 L523.5 768.1 L524.5 766.1 L525.5 764.1 L526.5 762.1 L527.5 760.1 L528.5 758.1 L529.5 756.1 L530.5 754.1 L531.5 752.0 L532.5 750.0 L533.5 748.0 L534.5 745.9 L535.5 743.9 L536.5 741.8 L537.5 739.8 L538.5 737.7 L539.5 735.7 L540.5 733.6 L541.5 731.5 L542.5 729.5 L543.5 727.4 L544.5 725.4 L545.5 723.3 L546.5 721.3 L547.5 719.3 L548.5 717.3 L549.5 715.4 L550.5 713.5 L551.5 711.7 L552.5 709.9 L553.5 708.1 L554.5 706.4 L555.5 704.7 L556.5 703.0 L557.5 701.4 L558.5 699.8 L559.5 698.2 L560.5 696.6 L561.5 695.1 L562.5 693.6 L563.5 692.2 L564.5 690.7 L565.5 689.3 L566.5 687.9 L567.5 686.5 L568.5 685.1 L569.5 683.7 L570.5 682.3 L571.5 680.9 L572.5 679.6 L573.5 678.2 L574.5 676.8 L575.5 675.3 L576.5 673.9 L577.5 672.4 L578.5 670.9 L579.5 669.3 L580.5 667.8 L581.5 666.1 L582.5 664.5 L583.5 662.8 L584.5 661.0 L585.5 659.2 L586.5 657.4 L587.5 655.5 L588.5 653.6 L589.5 651.7 L590.5 649.8 L591.5 647.8 L592.5 645.8 L593.5 643.8 L594.5 641.8 L595.5 639.8 L596.5 637.7 L597.5 635.7 L598.5 633.6 L599.5 631.6 L600.5 629.5 L601.5 627.5 L602.5 625.4 L603.5 623.4 L604.5 621.4 L605.5 619.4 L606.5 617.4 L607.5 615.4 L608.5 613.5 L609.5 611.5 L610.5 609.6 L611.5 607.7 L612.5 605.7 L613.5 603.8 L614.5 601.9 L615.5 600.1 L616.5 598.2 L617.5 596.3 L618.5 594.5 L619.5 592.6 L620.5 590.8 L621.5 588.9 L622.5 587.1 L623.5 585.3 L624.5 583.5 L625.5 581.7 L626.5 579.9 L627.5 578.1 L628.5 576.3 L629.5 574.5 L630.5 572.7 L631.5 570.9 L632.5 569.2 L633.5 567.4 L634.5 565.6 L635.5 563.9 L636.5 562.1 L637.5 560.3 L638.5 558.6 L639.5 556.8 L640.5 555.0 L641.5 553.3 L642.5 551.5 L643.5 549.8 L644.5 548.0 L645.5 546.2 L646.5 544.5 L647.5 542.7 L648.5 540.9 L649.5 539.1 L650.5 537.4 L651.5 535.6 L652.5 533.8 L653.5 532.0 L654.5 530.2 L655.5 528.4 L656.5 526.6 L657.5 524.8 L658.5 523.0 L659.5 521.1 L660.5 519.3 L661.5 517.5 L662.5 515.6 L663.5 513.8 L664.5 511.9 L665.5 510.1 L666.5 508.2 L667.5 506.4 L668.5 504.5 L669.5 502.7 L670.5 500.8 L671.5 499.0 L672.5 497.1 L673.5 495.2 L674.5 493.4 L675.5 491.5 L676.5 489.7 L677.5 487.8 L678.5 485.9 L679.5 484.1 L680.5 482.2 L681.5 480.4 L682.5 478.5 L683.5 476.7 L684.5 474.8 L685.5 473.0 L686.5 471.2 L687.5 469.3 L688.5 467.5 L689.5 465.7 L690.5 463.9 L691.5 462.1 L692.5 460.3 L693.5 458.5 L694.5 456.7 L695.5 454.9 L696.5 453.2 L697.5 451.4 L698.5 449.6 L699.5 447.9 L700.5 446.1 L701.5 444.4 L702.5 442.6 L703.5 440.9 L704.5 439.2 L705.5 437.5 L706.5 435.7 L707.5 434.0 L708.5 432.3 L709.5 430.6 L710.5 428.9 L711.5 427.3 L712.5 425.6 L713.5 423.9 L714.5 422.3 L715.5 420.6 L716.5 419.0 L717.5 417.3 L718.5 415.7 L719.5 414.0 L720.5 412.4 L721.5 410.8 L722.5 409.2 L723.5 407.6 L724.5 406.0 L725.5 404.4 L726.5 402.8 L727.5 401.2 L728.5 399.7 L729.5 398.1 L730.5 396.5 L731.5 395.0 L732.5 393.4 L733.5 391.9 L734.5 390.4 L735.5 388.8 L736.5 387.3 L737.5 385.8 L738.5 384.3 L739.5 382.8 L740.5 381.3 L741.5 379.8 L742.5 378.4 L743.5 376.9 L744.5 375.4 L745.5 374.0 L746.5 372.5 L747.5 371.1 L748.5 369.6 L749.5 368.2 L750.5 366.8 L751.5 365.4 L752.5 363.9 L753.5 362.5 L754.5 361.2 L755.5 359.8 L756.5 358.4 L757.5 357.0 L758.5 355.6 L759.5 354.3 L760.5 352.9 L761.5 351.6 L762.5 350.2 L763.5 348.9 L764.5 347.6 L765.5 346.3 L766.5 345.0 L767.5 343.7 L768.5 342.4 L769.5 341.1 L770.5 339.8 L771.5 338.5 L772.5 337.3 L773.5 336.0 L774.5 334.7 L775.5 333.5 L776.5 332.3 L777.5 331.0 L778.5 329.8 L779.5 328.6 L780.5 327.4 L781.5 326.2 L782.5 325.0 L783.5 323.8 L784.5 322.6 L785.5 321.5 L786.5 320.3 L787.5 319.1 L788.5 318.0 L789.5 316.8 L790.5 315.7 L791.5 314.6 L792.5 313.5 L793.5 312.4 L794.5 311.3 L795.5 310.2 L796.5 309.1 L797.5 308.0 L798.5 306.9 L799.5 305.9 L800.5 304.8 L801.5 303.7 L802.5 302.7 L803.5 301.7 L804.5 300.6 L805.5 299.6 L806.5 298.6 L807.5 297.6 L808.5 296.6 L809.5 295.6 L810.5 294.7 L811.5 293.7 L812.5 292.7 L813.5 291.8 L814.5 290.8 L815.5 289.9 L816.5 288.9 L817.5 288.0 L818.5 287.1 L819.5 286.2 L820.5 285.3 L821.5 284.4 L822.5 283.5 L823.5 282.6 L824.5 281.8 L825.5 280.9 L826.5 280.1 L827.5 279.2 L828.5 278.4 L829.5 277.6 L830.5 276.7 L831.5 275.9 L832.5 275.1 L833.5 274.3 L834.5 273.5 L835.5 272.8 L836.5 272.0 L837.5 271.2 L838.5 270.5 L839.5 269.7 L840.5 269.0 L841.5 268.3 L842.5 267.5 L843.5 266.8 L844.5 266.1 L845.5 265.4 L846.5 264.7 L847.5 264.1 L848.5 263.4 L849.5 262.7 L850.5 262.1 L851.5 261.4 L852.5 260.8 L853.5 260.2 L854.5 259.6 L855.5 258.9 L856.5 258.3 L857.5 257.7 L858.5 257.2 L859.5 256.6 L860.5 256.0 L861.5 255.5 L862.5 254.9 L863.5 254.4 L864.5 253.8 L865.5 253.3 L866.5 252.8 L867.5 252.3 L868.5 251.8 L869.5 251.3 L870.5 250.8 L871.5 250.3 L872.5 249.9 L873.5 249.4 L874.5 249.0 L875.5 248.5 L876.5 248.1 L877.5 247.7 L878.5 247.3 L879.5 246.9 L880.5 246.5 L881.5 246.1 L882.5 245.7 L883.5 245.4 L884.5 245.0 L885.5 244.7 L886.5 244.3 L887.5 244.0 L888.5 243.7 L889.5 243.4 L890.5 243.0 L891.5 242.8 L892.5 242.5 L893.5 242.2 L894.5 241.9 L895.5 241.7 L896.5 241.4 L897.5 241.2 L898.5 241.0 L899.5 240.7 L900.5 240.5 L901.5 240.3 L902.5 240.1 L903.5 239.9 L904.5 239.8 L905.5 239.6 L906.5 239.4 L907.5 239.3 L908.5 239.2 L909.5 239.0 L910.5 238.9 L911.5 238.8 L912.5 238.7 L913.5 238.6 L914.5 238.5 L915.5 238.5 L916.5 238.4 L917.5 238.3 L918.5 238.3 L919.5 238.3 L920.5 238.2 L921.5 238.2 L922.5 238.2 L923.5 238.2 L924.5 238.2 L1652.7 238.2" stroke="#7E2F8E"/>
<path d="M236.3 1143.5 L236.5 1143.5 L237.5 1143.2 L238.5 1142.8 L239.5 1142.5 L240.5 1142.2 L241.5 1141.8 L242.5 1141.5 L243.5 1141.1 L244.5 1140.8 L245.5 1140.4 L246.5 1140.0 L247.5 1139.7 L248.5 1139.3 L249.5 1138.9 L250.5 1138.6 L251.5 1138.2 L252.5 1137.8 L253.5 1137.4 L254.5 1137.0 L255.5 1136.6 L256.5 1136.2 L257.5 1135.8 L258.5 1135.4 L259.5 1135.0 L260.5 1134.5 L261.5 1134.1 L262.5 1133.7 L263.5 1133.2 L264.5 1132.8 L265.5 1132.3 L266.5 1131.9 L266.9 1131.7 M298.8 1112.8 L299.5 1112.3 L300.5 1111.5 L301.5 1110.8 L302.5 1110.0 L303.5 1109.2 L304.5 1108.4 L305.5 1107.6 L306.5 1106.8 L307.5 1105.9 L308.5 1105.1 L309.5 1104.2 L310.5 1103.4 L311.5 1102.5 L312.5 1101.6 L313.5 1100.7 L314.5 1099.8 L315.5 1098.8 L316.5 1097.9 L317.5 1096.9 L318.5 1096.0 L319.5 1095.0 L320.5 1094.0 L321.5 1093.0 L322.5 1092.0 L323.5 1090.9 L324.5 1089.9 L325.5 1088.9 L326.5 1087.8 L327.5 1086.7 L328.5 1085.6 L329.5 1084.6 L330.5 1083.5 L330.7 1083.2 M358.0 1049.9 L358.5 1049.2 L359.5 1047.9 L360.5 1046.6 L361.5 1045.2 L362.5 1043.9 L363.5 1042.6 L364.5 1041.2 L365.5 1039.9 L366.5 1038.5 L367.5 1037.1 L368.5 1035.8 L369.5 1034.4 L370.5 1033.0 L371.5 1031.6 L372.5 1030.2 L373.5 1028.9 L374.5 1027.5 L375.5 1026.1 L376.5 1024.6 L377.5 1023.2 L378.5 1021.8 L379.5 1020.4 L380.5 1019.0 L381.5 1017.5 L382.0 1016.8 M403.5 984.6 L404.5 983.1 L405.5 981.5 L406.5 980.0 L407.5 978.4 L408.5 976.8 L409.5 975.2 L410.5 973.6 L411.5 972.1 L412.5 970.5 L413.5 968.9 L414.5 967.3 L415.5 965.6 L416.5 964.0 L417.5 962.4 L418.5 960.8 L419.5 959.1 L420.5 957.5 L421.5 955.9 L422.5 954.2 L423.5 952.6 L424.5 950.9 L425.5 949.2 L426.5 947.6 M444.8 916.1 L445.5 914.9 L446.5 913.1 L447.5 911.4 L448.5 909.6 L449.5 907.8 L450.5 906.0 L451.5 904.2 L452.5 902.4 L453.5 900.6 L454.5 898.8 L455.5 897.0 L456.5 895.2 L457.5 893.4 L458.5 891.6 L459.5 889.8 L460.5 887.9 L461.5 887.2 L462.5 886.4 L463.0 886.0 M488.7 854.0 L489.5 852.6 L490.5 850.7 L491.5 848.9 L492.5 847.2 L493.5 845.4 L494.5 843.7 L495.5 842.1 L496.5 840.5 L497.5 839.0 L498.5 837.5 L499.5 836.1 L500.5 834.8 L501.5 833.6 L502.5 832.3 L503.5 831.2 L504.5 830.0 L505.5 828.9 L506.5 827.9 L507.5 826.8 L508.5 825.8 L509.5 824.8 L510.5 823.8 L511.5 822.7 L512.5 821.7 L513.5 820.7 L514.5 819.7 L514.8 819.3 M533.4 792.0 L533.5 791.8 L534.5 789.9 L535.5 788.1 L536.5 786.2 L537.5 784.3 L538.5 782.4 L539.5 780.6 L540.5 778.7 L541.5 776.9 L542.5 775.1 L543.5 773.4 L544.5 771.6 L545.5 769.9 L546.5 768.3 L547.5 766.7 L548.5 765.0 L549.5 763.5 L550.5 761.9 L551.5 760.3 L552.5 758.8 L552.9 758.2 M573.1 726.7 L573.5 726.0 L574.5 724.2 L575.5 722.4 L576.5 720.5 L577.5 718.6 L578.5 716.7 L579.5 714.8 L580.5 712.8 L581.5 710.8 L582.5 708.8 L583.5 706.7 L584.5 704.7 L585.5 702.6 L586.5 700.5 L587.5 698.5 L588.3 696.8 M597.2 678.3 L597.5 677.7 L598.5 675.7 L599.5 673.6 L600.5 671.6 L601.5 669.6 L602.5 667.6 L602.8 667.0 M620.1 634.3 L620.5 633.5 L621.5 631.7 L622.5 629.9 L623.5 628.0 L624.5 626.2 L625.5 624.3 L626.5 622.5 L627.5 620.6 L628.5 618.7 L629.5 616.8 L630.5 614.9 L631.5 613.0 L632.5 611.1 L633.5 609.2 L634.5 607.3 L635.5 605.3 L636.5 603.4 L637.5 601.4 M652.0 572.5 L652.5 571.5 L653.5 569.4 L654.5 567.4 L655.5 565.4 L656.5 563.3 L657.5 561.3 L658.5 559.3 L659.5 557.2 L660.5 555.2 L661.5 553.2 L662.5 551.1 L663.5 549.1 L664.5 547.0 L665.5 545.0 L666.5 543.0 L667.5 540.9 L668.5 538.9 L668.8 538.3 M681.7 512.3 L682.5 510.7 L683.5 508.7 L684.5 506.7 L685.5 504.8 L686.5 502.8 L687.5 500.9 L688.5 498.9 L689.5 497.0 L690.5 495.0 L691.5 493.1 L692.3 491.6 M707.6 463.3 L708.5 461.8 L709.5 460.0 L710.5 458.2 L711.5 456.5 L712.5 454.8 L713.5 453.0 L714.5 451.3 L715.5 449.6 L716.5 447.9 L717.5 446.2 L718.5 444.5 L719.5 442.9 L720.5 441.2 L721.5 439.5 L722.5 437.9 L723.5 436.2 L724.5 434.6 L725.5 433.0 L726.4 431.5 M748.0 398.7 L748.5 398.0 L749.5 396.6 L750.5 395.2 L751.5 393.8 L752.5 392.4 L753.5 391.0 L754.5 389.6 L755.5 388.2 L756.5 386.8 L757.5 385.5 L758.5 384.1 L759.5 382.8 L760.5 381.4 L761.5 380.1 L762.5 378.8 L763.5 377.5 L764.5 376.2 L765.5 374.9 L766.5 373.6 L767.5 372.3 L768.5 371.0 L769.5 369.7 L770.5 368.5 L771.5 367.2 L772.1 366.5 M800.0 334.5 L800.5 334.0 L801.5 332.9 L802.5 331.9 L803.5 330.9 L804.5 329.9 L805.5 328.9 L806.5 327.9 L807.5 326.9 L808.5 325.9 L809.5 324.9 L810.5 324.0 L811.5 323.0 L812.5 322.0 L813.5 321.1 L814.5 320.2 L815.5 319.2 L816.5 318.3 L817.5 317.4 L818.5 316.5 L819.5 315.6 L820.5 314.7 L821.5 313.8 L822.5 313.0 L823.5 312.1 L824.5 311.3 L825.5 310.4 L826.5 309.6 L827.5 308.7 L828.5 307.9 L829.5 307.1 L830.5 306.3 L830.6 306.2 M864.5 283.7 L865.5 283.2 L866.5 282.7 L867.5 282.2 L868.5 281.7 L869.5 281.2 L870.5 280.7 L871.5 280.2 L872.5 279.8 L873.5 279.3 L874.5 278.9 L875.5 278.5 L876.5 278.0 L877.5 277.6 L878.5 277.2 L879.5 276.8 L880.5 276.4 L881.5 276.1 L882.5 275.7 L883.5 275.3 L884.5 275.0 L885.5 274.6 L886.5 274.3 L887.5 274.0 L888.5 273.7 L889.5 273.4 L890.5 273.1 L891.5 272.8 L892.5 272.5 L893.5 272.2 L894.5 272.0 L895.5 271.7 L896.5 271.5 L896.7 271.4 M929.1 268.3 L960.9 268.3 M992.8 268.3 L1025.3 268.3 M1057.7 268.3 L1089.6 268.3 M1122.5 268.3 L1153.1 268.3 M1186.1 268.3 L1200.7 268.3 M1214.7 268.3 L1246.9 268.3 M1278.6 268.3 L1310.8 268.3 M1342.6 268.3 L1374.8 268.3 M1407.0 268.3 L1439.2 268.3 M1471.0 268.3 L1503.0 268.3 M1533.5 268.3 L1566.0 268.3 M1597.6 268.3 L1629.6 268.3" stroke="#EDB120"/>
</g>
<rect x="1141.8" y="469.8" width="506.2" height="614.6" fill="#fff" stroke="#262626" stroke-width="4.2"/>
<g fill="none" stroke-width="7.7">
<path d="M1166.3 540.0 H1416.7" stroke="#A2142F"/>
<path d="M1166.3 658.4 H1197.8 M1200.5 658.4 H1222.2 M1253.4 658.4 H1285.3 M1317.1 658.4 H1349.0 M1380.8 658.4 H1413.3" stroke="#0000CD"/>
<path d="M1166.3 776.4 H1416.7" stroke="#77AC30"/>
<path d="M1166.3 895.0 H1416.7" stroke="#7E2F8E"/>
<path d="M1166.3 1014.3 H1197.8 M1200.5 1014.3 H1222.2 M1253.4 1014.3 H1285.3 M1317.1 1014.3 H1349.0 M1380.8 1014.3 H1413.3" stroke="#EDB120"/>
</g>
<g font-family="Liberation Serif, serif" font-size="87.5" fill="#000">
<text transform="translate(0 559.5) scale(1.06 1)" x="1353.7 1415.6 1465.1" y="0">OPH</text>
<text transform="translate(0 677.9) scale(1.06 1)" x="1352.8 1414.5 1464.5" y="0">DPH</text>
<text transform="translate(0 795.9) scale(1.06 1)" x="1354.2 1402.8 1451.1" y="0">EPH</text>
<text transform="translate(0 914.5) scale(1.06 1)" x="1352.3 1400.0" y="0">TS</text>
<text transform="translate(0 1033.8) scale(1.06 1)" x="1352.4 1404.8" y="0">RS</text>
</g>
<g font-family="Liberation Serif, serif" font-size="88" fill="#262626">
<text x="159.9" y="1163.1">0</text>
<text x="158.7" y="830.2">1</text>
<text x="160.4" y="497.2">2</text>
<text x="159.5" y="164.3">3</text>
<text x="214.3" y="1253.4">0</text>
<text x="640.1 681.3 722.9 764.6" y="1253.4">2000</text>
<text x="1127.7 1169.6 1211.2 1252.9" y="1253.4">4000</text>
<text x="1615.7 1657.9 1699.5 1741.2" y="1253.4">6000</text>
<text x="239.6" y="121.2" font-size="104.2" stroke="#fff" stroke-width="2">×</text>
<text x="298.3 342.3" y="108">10</text>
<text x="384.4" y="67.4" font-size="71.5">6</text>
</g>
<g font-family="Liberation Serif, serif" font-size="94" fill="#262626">
<text transform="translate(0 1382.2) scale(1.05 1)" x="774.0 828.6 856.8 931.8 973.5 1002.4 1037.9" y="0">Time(s)</text>
<text transform="translate(93.6 0) rotate(-90) scale(1.05 1)" x="-1079.6 -1016.0 -966.4 -922.1 -888.7 -840.4 -812.6 -763.6 -716.6 -694.9 -640.4 -615.4 -574.0 -527.0 -513.9 -457.6 -408.5 -366.4 -333.3 -283.2 -235.7 -210.9 -178.9" y="0">Charging Elec Energy(J)</text>
</g>
</svg>
</body></html>
